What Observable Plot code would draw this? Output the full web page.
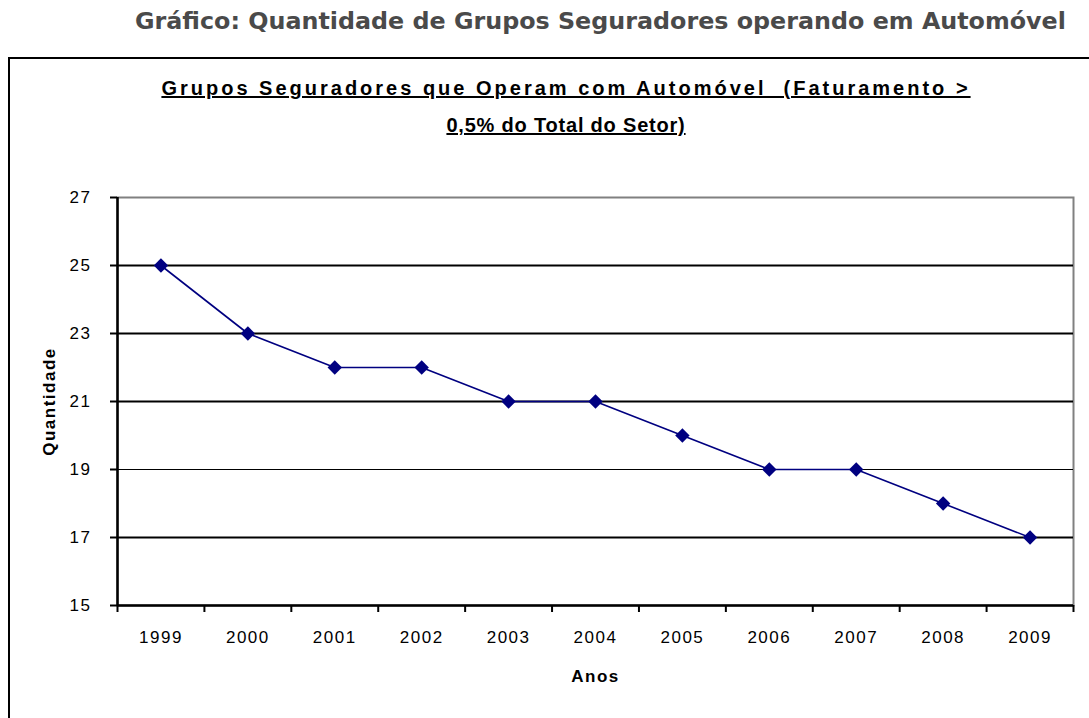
<!DOCTYPE html>
<html><head><meta charset="utf-8">
<script src="https://cdn.jsdelivr.net/npm/d3@7"></script>
<script src="https://cdn.jsdelivr.net/npm/@observablehq/plot@0.6"></script>
<style>
body{margin:0;background:#fff;width:1089px;height:718px;overflow:hidden;position:relative;font-family:"Liberation Sans",Arial,sans-serif}
#t{position:absolute;top:7px;left:135px;font:bold 23.8px "DejaVu Sans",Verdana,sans-serif;color:#4a4a4a;white-space:nowrap}
#box{position:absolute;left:8px;top:57px;width:1100px;height:700px;border-left:2px solid #000;border-top:2px solid #000}
#st{position:absolute;top:70px;left:0;width:1132px;text-align:center;font:bold 20px "Liberation Sans",Arial,sans-serif;letter-spacing:3px;line-height:37px;text-decoration:underline;white-space:nowrap}
#st .l2{letter-spacing:0.8px}
#chart{position:absolute;left:0;top:140px}
</style>
</head><body>
<div id="t">Gráfico: Quantidade de Grupos Seguradores operando em Automóvel</div>
<div id="box"></div>
<div id="st">Grupos Seguradores que Operam com Automóvel&nbsp; (Faturamento &gt;<br><span class="l2">0,5% do Total do Setor)</span></div>
<div id="chart"></div>
<script>
const years = [1999, 2000, 2001, 2002, 2003, 2004, 2005, 2006, 2007, 2008, 2009];
const values = [25, 23, 22, 22, 21, 21, 20, 19, 19, 18, 17];
const yTicks = [15, 17, 19, 21, 23, 25, 27];
const gridThick = [17, 21, 23, 25];
const gridThin = [19];

const data = years.map((year, i) => ({year, value: values[i]}));
const bounds = [...years.map(y => y - 0.5), years[years.length - 1] + 0.5];

const chart = Plot.plot({
  width: 1089,
  height: 578,
  marginTop: 57,
  marginBottom: 113,
  marginLeft: 117,
  marginRight: 16,
  style: {fontFamily: "'Liberation Sans', Arial, sans-serif", fontSize: "17px", color: "#000", background: "transparent", overflow: "visible", letterSpacing: "1.5px"},
  x: {type: "linear", domain: [bounds[0], bounds[bounds.length - 1]]},
  y: {domain: [15, 27]},
  marks: [
    Plot.frame({stroke: "#808080", strokeWidth: 2}),
    Plot.ruleY(gridThick, {stroke: "#000", strokeWidth: 2}),
    Plot.ruleY(gridThin, {stroke: "#000", strokeWidth: 1}),
    Plot.ruleY([15], {stroke: "#000", strokeWidth: 2.5}),
    Plot.ruleX([bounds[0]], {stroke: "#000", strokeWidth: 2.5}),
    Plot.axisY(yTicks, {anchor: "left", tickSize: 7, tickPadding: 19, strokeWidth: 2, label: null, fontSize: 17}),
    Plot.axisX(years, {anchor: "bottom", tickSize: 0, tickPadding: 25, tickFormat: "d", label: null, fontSize: 17}),
    Plot.axisX(bounds, {anchor: "bottom", tickSize: 7, tickFormat: () => "", strokeWidth: 2, label: null}),
    Plot.line(data, {x: "year", y: "value", stroke: "#000080", strokeWidth: 1.6}),
    Plot.dot(data, {x: "year", y: "value", symbol: "diamond2", fill: "#000080", r: 6.5}),
    Plot.text(["Quantidade"], {frameAnchor: "left", textAnchor: "middle", dx: -68, rotate: -90, fontWeight: "bold", fontSize: 17}),
    Plot.text(["Anos"], {frameAnchor: "bottom", textAnchor: "middle", dy: 76, fontWeight: "bold", fontSize: 17})
  ]
});
document.getElementById("chart").appendChild(chart);
</script>
</body></html>
